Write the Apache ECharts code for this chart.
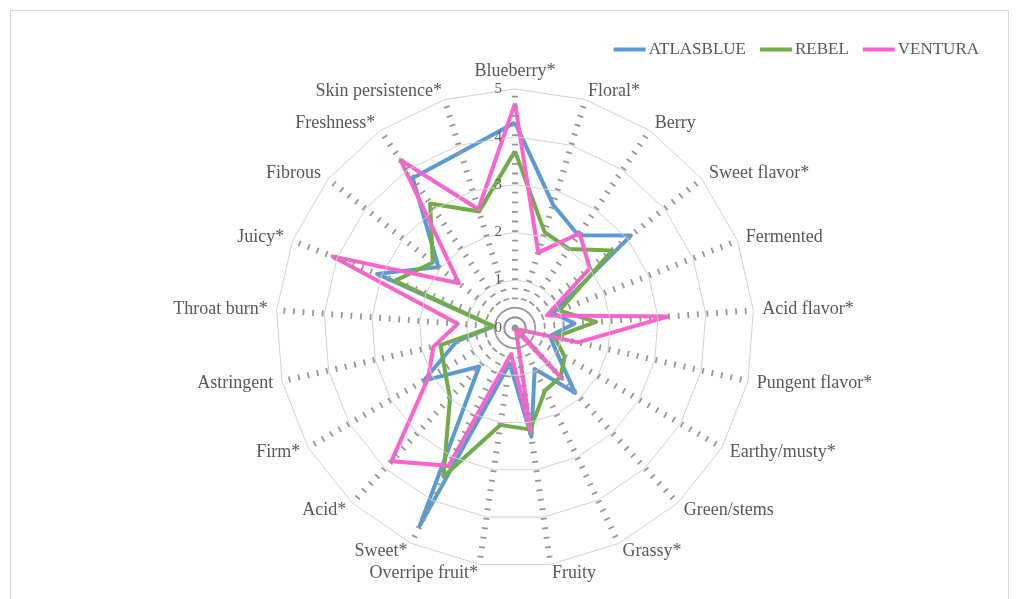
<!DOCTYPE html>
<html>
<head>
<meta charset="utf-8">
<script src="https://cdn.jsdelivr.net/npm/echarts@6/dist/echarts.min.js"></script>
<style>
  html, body { margin: 0; padding: 0; background: #fff; overflow: hidden; }
  #frame { position: absolute; left: 10px; top: 10px; width: 997px; height: 640px; border: 1px solid #d9d9d9; }
  #chart { position: absolute; left: 0; top: 0; width: 1018px; height: 599px; }
</style>
</head>
<body>
<div id="frame"></div>
<div id="chart"></div>
<script>
const attributes = [
  "Blueberry*", "Floral*", "Berry", "Sweet flavor*", "Fermented", "Acid flavor*",
  "Pungent flavor*", "Earthy/musty*", "Green/stems", "Grassy*", "Fruity",
  "Overripe fruit*", "Sweet*", "Acid*", "Firm*", "Astringent", "Throat burn*",
  "Juicy*", "Fibrous", "Freshness*", "Skin persistence*"
];
const atlasBlue = [4.3, 2.7, 2.35, 3.1, 0.85, 1.25, 0.75, 1.0, 1.85, 0.95, 2.3,
  0.75, 4.6, 1.1, 2.2, 1.25, 0.45, 3.1, 2.05, 3.8, 3.85];
const rebel = [3.7, 2.1, 2.0, 2.6, 1.0, 1.7, 0.85, 1.2, 1.4, 1.45, 2.15,
  2.05, 3.45, 2.0, 1.7, 1.6, 0.45, 2.7, 2.2, 3.15, 2.55];
const ventura = [4.7, 1.65, 2.4, 2.0, 0.72, 3.2, 1.35, 0.05, 1.45, 0.05, 2.2,
  0.55, 3.2, 3.8, 2.1, 1.75, 1.2, 4.1, 1.5, 4.25, 2.6];
const seriesNames = ["ATLASBLUE", "REBEL", "VENTURA"];
const lineColors = ["#5b9bd5", "#70ad47", "#ff61cf"];
const scaleMax = 5;

const textFont = "'Liberation Serif', 'DejaVu Serif', serif";

// echarts lays indicators out counter-clockwise, the reference runs clockwise
const n = attributes.length;
const order = attributes.map((_, i) => (n - i) % n);
const pick = arr => order.map(i => arr[i]);

const indicators = order.map((i, k) => {
  const ind = { name: attributes[i], min: 0, max: scaleMax };
  if (k === 0) {
    // only the top axis carries the 0..5 labels
    ind.axisLabel = { show: true, color: "#595959", fontSize: 15, fontFamily: textFont, margin: 13 };
  }
  return ind;
});

const chart = echarts.init(document.getElementById("chart"));
chart.setOption({
  animation: false,
  color: lineColors,
  legend: {
    data: seriesNames,
    right: 34,
    top: 36,
    icon: "rect",
    itemWidth: 32,
    itemHeight: 4,
    itemGap: 14,
    textStyle: { color: "#595959", fontSize: 17, fontFamily: textFont, padding: [0, 0, 0, -2] },
  },
  radar: {
    center: [515, 328],
    radius: 239,
    startAngle: 90,
    splitNumber: 5,
    shape: "polygon",
    z: 3,
    nameGap: 9,
    axisName: { color: "#595959", fontSize: 18, fontFamily: textFont },
    axisLine: { lineStyle: { color: "#979797", width: 6, type: [1.8, 7.8], cap: "butt" } },
    splitLine: { lineStyle: { color: "#d2d2d2", width: 1 } },
    splitArea: { show: false },
    axisTick: { show: false },
    axisLabel: { show: false },
    indicator: indicators,
  },
  series: [
    {
      type: "radar",
      symbol: "none",
      lineStyle: { width: 4 },
      data: [atlasBlue, rebel, ventura].map((vals, s) => ({
        name: seriesNames[s],
        value: pick(vals),
        lineStyle: { color: lineColors[s], width: 4 },
        itemStyle: { color: lineColors[s] },
      })),
    },
  ],
});
</script>
</body>
</html>
